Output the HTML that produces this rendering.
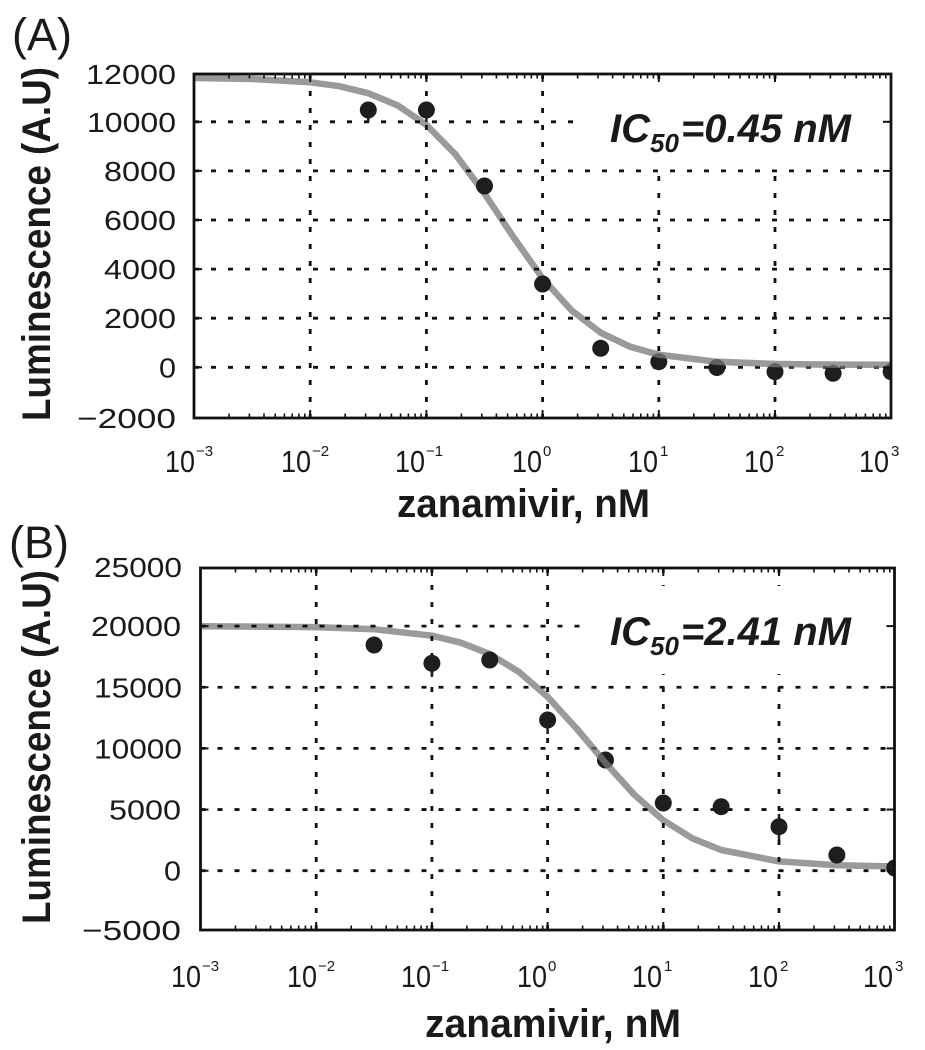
<!DOCTYPE html>
<html>
<head>
<meta charset="utf-8">
<style>
  html,body{margin:0;padding:0;background:#fff;}
  svg{display:block;}
  text{font-family:"Liberation Sans",sans-serif;fill:#1a1a1a;}
  .yt{font-size:28px;text-anchor:end;}
  .xt{font-size:31px;text-anchor:end;}
  .xs{font-size:15px;}
  .lab{font-size:40px;font-weight:bold;}
  .ic{font-size:40px;font-weight:bold;font-style:italic;}
  .pan{font-size:45px;}
  .grid{stroke:#111;stroke-width:2.8;stroke-dasharray:5 12;fill:none;}
  .tk{stroke:#111;stroke-width:1.6;}
  .curve{fill:none;stroke:#9a9a9a;stroke-width:6.5;stroke-linecap:round;stroke-linejoin:round;}
  .pt{fill:#1e1e1e;}
  .eb{stroke:#1e1e1e;stroke-width:2.5;}
</style>
</head>
<body>
<svg width="925" height="1050" viewBox="0 0 925 1050" xmlns="http://www.w3.org/2000/svg">
  <defs>
    <clipPath id="clipA"><rect x="194" y="74" width="697" height="344"/></clipPath>
    <clipPath id="clipB"><rect x="200.5" y="568" width="694" height="362"/></clipPath>
    <g id="mt">
      <line class="tk" x1="35.0" y1="0" x2="35.0" y2="-4.5"/>
      <line class="tk" x1="55.4" y1="0" x2="55.4" y2="-4.5"/>
      <line class="tk" x1="70.0" y1="0" x2="70.0" y2="-4.5"/>
      <line class="tk" x1="81.2" y1="0" x2="81.2" y2="-4.5"/>
      <line class="tk" x1="90.4" y1="0" x2="90.4" y2="-4.5"/>
      <line class="tk" x1="98.2" y1="0" x2="98.2" y2="-4.5"/>
      <line class="tk" x1="104.9" y1="0" x2="104.9" y2="-4.5"/>
      <line class="tk" x1="110.8" y1="0" x2="110.8" y2="-4.5"/>
    </g>
  </defs>

  <!-- ================= PANEL A ================= -->
  <text class="pan" x="12" y="50">(A)</text>

  <g clip-path="url(#clipA)">
    <polyline class="curve" points="194,78.0 252.1,79.0 310.2,82.3 339.25,86.2 368.3,93.2 397.35,105.2 426.4,124.9 455.45,154.4 484.5,193.5 513.55,237.3 542.6,278.3 571.65,310.5 600.7,332.7 629.75,346.6 658.8,354.7 716.9,361.8 775,364.0 833.1,364.6 891.2,364.8"/>
    <line class="grid" x1="194" y1="121.8" x2="891" y2="121.8"/>
    <line class="grid" x1="194" y1="170.9" x2="891" y2="170.9"/>
    <line class="grid" x1="194" y1="220.0" x2="891" y2="220.0"/>
    <line class="grid" x1="194" y1="269.1" x2="891" y2="269.1"/>
    <line class="grid" x1="194" y1="318.2" x2="891" y2="318.2"/>
    <line class="grid" x1="194" y1="367.3" x2="891" y2="367.3"/>
    <line class="grid" x1="310.2" y1="74" x2="310.2" y2="418"/>
    <line class="grid" x1="426.4" y1="74" x2="426.4" y2="418"/>
    <line class="grid" x1="542.6" y1="74" x2="542.6" y2="418"/>
    <line class="grid" x1="658.8" y1="74" x2="658.8" y2="418"/>
    <line class="grid" x1="775.0" y1="74" x2="775.0" y2="418"/>
    <!-- white box behind IC50 label -->
    <rect x="585" y="83" width="306" height="84" fill="#fff"/>
    <g>
      <line class="eb" x1="368.3" y1="110" x2="368.3" y2="122"/>
      <line class="eb" x1="426.4" y1="110" x2="426.4" y2="122"/>
      <circle class="pt" cx="368.3" cy="110" r="8.5"/>
      <circle class="pt" cx="426.4" cy="110" r="8.5"/>
      <circle class="pt" cx="484.5" cy="186" r="8.5"/>
      <circle class="pt" cx="542.6" cy="284" r="8.5"/>
      <circle class="pt" cx="600.7" cy="348.3" r="8.5"/>
      <circle class="pt" cx="658.8" cy="361.7" r="8.5"/>
      <circle class="pt" cx="716.9" cy="367.5" r="8.5"/>
      <circle class="pt" cx="775.0" cy="371.7" r="8.5"/>
      <circle class="pt" cx="833.1" cy="373.3" r="8.5"/>
      <circle class="pt" cx="891.2" cy="371.7" r="8.5"/>
    </g>
    <polyline class="curve" style="opacity:0.55" points="600.7,332.7 629.75,346.6 658.8,354.7 716.9,361.8 775,364.0 833.1,364.6 891.2,364.8"/>
  </g>

  <rect x="194" y="74" width="697" height="344" fill="none" stroke="#111" stroke-width="2.8"/>
  <g class="tk" style="stroke-width:2">
    <line x1="310.2" y1="418" x2="310.2" y2="410"/><line x1="426.4" y1="418" x2="426.4" y2="410"/>
    <line x1="542.6" y1="418" x2="542.6" y2="410"/><line x1="658.8" y1="418" x2="658.8" y2="410"/>
    <line x1="775.0" y1="418" x2="775.0" y2="410"/>
    <line x1="310.2" y1="74" x2="310.2" y2="82"/><line x1="426.4" y1="74" x2="426.4" y2="82"/>
    <line x1="542.6" y1="74" x2="542.6" y2="82"/><line x1="658.8" y1="74" x2="658.8" y2="82"/>
    <line x1="775.0" y1="74" x2="775.0" y2="82"/>
    <line x1="194" y1="121.8" x2="202" y2="121.8"/><line x1="194" y1="170.9" x2="202" y2="170.9"/>
    <line x1="194" y1="220.0" x2="202" y2="220.0"/><line x1="194" y1="269.1" x2="202" y2="269.1"/>
    <line x1="194" y1="318.2" x2="202" y2="318.2"/><line x1="194" y1="367.3" x2="202" y2="367.3"/>
    <line x1="891" y1="121.8" x2="883" y2="121.8"/><line x1="891" y1="170.9" x2="883" y2="170.9"/>
    <line x1="891" y1="220.0" x2="883" y2="220.0"/><line x1="891" y1="269.1" x2="883" y2="269.1"/>
    <line x1="891" y1="318.2" x2="883" y2="318.2"/><line x1="891" y1="367.3" x2="883" y2="367.3"/>
  </g>
  <use href="#mt" transform="translate(194,418)"/>
  <use href="#mt" transform="translate(310.2,418)"/>
  <use href="#mt" transform="translate(426.4,418)"/>
  <use href="#mt" transform="translate(542.6,418)"/>
  <use href="#mt" transform="translate(658.8,418)"/>
  <use href="#mt" transform="translate(775,418)"/>
  <use href="#mt" transform="translate(194,74) scale(1,-1)"/>
  <use href="#mt" transform="translate(310.2,74) scale(1,-1)"/>
  <use href="#mt" transform="translate(426.4,74) scale(1,-1)"/>
  <use href="#mt" transform="translate(542.6,74) scale(1,-1)"/>
  <use href="#mt" transform="translate(658.8,74) scale(1,-1)"/>
  <use href="#mt" transform="translate(775,74) scale(1,-1)"/>

  <text class="yt" x="176" y="84" textLength="90" lengthAdjust="spacingAndGlyphs">12000</text>
  <text class="yt" x="176" y="131.8" textLength="89" lengthAdjust="spacingAndGlyphs">10000</text>
  <text class="yt" x="176" y="180.9" textLength="72" lengthAdjust="spacingAndGlyphs">8000</text>
  <text class="yt" x="176" y="230" textLength="72" lengthAdjust="spacingAndGlyphs">6000</text>
  <text class="yt" x="176" y="279.1" textLength="72" lengthAdjust="spacingAndGlyphs">4000</text>
  <text class="yt" x="176" y="328.2" textLength="72" lengthAdjust="spacingAndGlyphs">2000</text>
  <text class="yt" x="176" y="377.3" textLength="17" lengthAdjust="spacingAndGlyphs">0</text>
  <text class="yt" x="176" y="428" textLength="99" lengthAdjust="spacingAndGlyphs">−2000</text>

  <g>
    <text class="xt" x="195" y="472" textLength="30" lengthAdjust="spacingAndGlyphs">10</text><text class="xs" x="196" y="456">−3</text>
    <text class="xt" x="311" y="472" textLength="30" lengthAdjust="spacingAndGlyphs">10</text><text class="xs" x="312" y="456">−2</text>
    <text class="xt" x="425" y="472" textLength="30" lengthAdjust="spacingAndGlyphs">10</text><text class="xs" x="426" y="456">−1</text>
    <text class="xt" x="542" y="472" textLength="30" lengthAdjust="spacingAndGlyphs">10</text><text class="xs" x="543" y="456">0</text>
    <text class="xt" x="658" y="472" textLength="30" lengthAdjust="spacingAndGlyphs">10</text><text class="xs" x="660" y="456">1</text>
    <text class="xt" x="774" y="472" textLength="30" lengthAdjust="spacingAndGlyphs">10</text><text class="xs" x="776" y="456">2</text>
    <text class="xt" x="889" y="472" textLength="30" lengthAdjust="spacingAndGlyphs">10</text><text class="xs" x="891" y="456">3</text>
  </g>

  <text class="lab" x="397" y="517" textLength="253" lengthAdjust="spacingAndGlyphs">zanamivir, nM</text>
  <text class="lab" transform="translate(50,244) rotate(-90)" text-anchor="middle" textLength="354" lengthAdjust="spacingAndGlyphs">Luminescence (A.U)</text>

  <text class="ic" x="610" y="142">IC<tspan style="font-size:26px" dy="10">50</tspan><tspan dy="-10" dx="2">=0.45 nM</tspan></text>

  <!-- ================= PANEL B ================= -->
  <text class="pan" x="9" y="558">(B)</text>

  <g clip-path="url(#clipB)">
    <polyline class="curve" points="200.5,626.2 316.2,627.1 374.05,629.2 431.9,635.7 460.8,642.7 489.75,654.0 518.7,671.7 547.6,696.8 576.5,728.4 605.45,762.8 634.4,794.8 663.3,820.3 692.2,838.3 721.15,850.0 779,861.4 836.85,865.2 894.7,866.5"/>
    <line class="grid" x1="200.5" y1="626.1" x2="894.5" y2="626.1"/>
    <line class="grid" x1="200.5" y1="687.25" x2="894.5" y2="687.25"/>
    <line class="grid" x1="200.5" y1="748.4" x2="894.5" y2="748.4"/>
    <line class="grid" x1="200.5" y1="809.55" x2="894.5" y2="809.55"/>
    <line class="grid" x1="200.5" y1="870.7" x2="894.5" y2="870.7"/>
    <line class="grid" x1="316.2" y1="568" x2="316.2" y2="930"/>
    <line class="grid" x1="431.9" y1="568" x2="431.9" y2="930"/>
    <line class="grid" x1="547.6" y1="568" x2="547.6" y2="930"/>
    <line class="grid" x1="663.3" y1="568" x2="663.3" y2="930"/>
    <line class="grid" x1="779.0" y1="568" x2="779.0" y2="930"/>
    <rect x="580" y="586" width="314" height="88" fill="#fff"/>
    <g>
      <line class="eb" x1="431.9" y1="663" x2="431.9" y2="677"/>
      <line class="eb" x1="547.6" y1="720" x2="547.6" y2="734"/>
      <line class="eb" x1="779.0" y1="814" x2="779.0" y2="840"/>
      <circle class="pt" cx="374.05" cy="645" r="8.5"/>
      <circle class="pt" cx="431.9" cy="663.3" r="8.5"/>
      <circle class="pt" cx="489.75" cy="660" r="8.5"/>
      <circle class="pt" cx="547.6" cy="720" r="8.5"/>
      <circle class="pt" cx="605.45" cy="760" r="8.5"/>
      <circle class="pt" cx="663.3" cy="803" r="8.5"/>
      <circle class="pt" cx="721.15" cy="806.7" r="8.5"/>
      <circle class="pt" cx="779.0" cy="826.7" r="8.5"/>
      <circle class="pt" cx="836.85" cy="855" r="8.5"/>
      <circle class="pt" cx="894.7" cy="868" r="8.5"/>
    </g>
    <polyline class="curve" style="opacity:0.55" points="576.5,728.4 605.45,762.8 634.4,794.8"/>
  </g>

  <rect x="200.5" y="568" width="694" height="362" fill="none" stroke="#111" stroke-width="2.8"/>
  <g class="tk" style="stroke-width:2">
    <line x1="316.2" y1="930" x2="316.2" y2="922"/><line x1="431.9" y1="930" x2="431.9" y2="922"/>
    <line x1="547.6" y1="930" x2="547.6" y2="922"/><line x1="663.3" y1="930" x2="663.3" y2="922"/>
    <line x1="779.0" y1="930" x2="779.0" y2="922"/>
    <line x1="316.2" y1="568" x2="316.2" y2="576"/><line x1="431.9" y1="568" x2="431.9" y2="576"/>
    <line x1="547.6" y1="568" x2="547.6" y2="576"/><line x1="663.3" y1="568" x2="663.3" y2="576"/>
    <line x1="779.0" y1="568" x2="779.0" y2="576"/>
    <line x1="200.5" y1="626.1" x2="208.5" y2="626.1"/><line x1="200.5" y1="687.25" x2="208.5" y2="687.25"/>
    <line x1="200.5" y1="748.4" x2="208.5" y2="748.4"/><line x1="200.5" y1="809.55" x2="208.5" y2="809.55"/>
    <line x1="200.5" y1="870.7" x2="208.5" y2="870.7"/>
    <line x1="894.5" y1="626.1" x2="886.5" y2="626.1"/><line x1="894.5" y1="687.25" x2="886.5" y2="687.25"/>
    <line x1="894.5" y1="748.4" x2="886.5" y2="748.4"/><line x1="894.5" y1="809.55" x2="886.5" y2="809.55"/>
    <line x1="894.5" y1="870.7" x2="886.5" y2="870.7"/>
  </g>
  <use href="#mt" transform="translate(200.5,930)"/>
  <use href="#mt" transform="translate(316.2,930)"/>
  <use href="#mt" transform="translate(431.9,930)"/>
  <use href="#mt" transform="translate(547.6,930)"/>
  <use href="#mt" transform="translate(663.3,930)"/>
  <use href="#mt" transform="translate(779,930)"/>
  <use href="#mt" transform="translate(200.5,568) scale(1,-1)"/>
  <use href="#mt" transform="translate(316.2,568) scale(1,-1)"/>
  <use href="#mt" transform="translate(431.9,568) scale(1,-1)"/>
  <use href="#mt" transform="translate(547.6,568) scale(1,-1)"/>
  <use href="#mt" transform="translate(663.3,568) scale(1,-1)"/>
  <use href="#mt" transform="translate(779,568) scale(1,-1)"/>

  <text class="yt" x="182" y="577" textLength="88" lengthAdjust="spacingAndGlyphs">25000</text>
  <text class="yt" x="181" y="636.1" textLength="90" lengthAdjust="spacingAndGlyphs">20000</text>
  <text class="yt" x="182" y="697.25" textLength="88" lengthAdjust="spacingAndGlyphs">15000</text>
  <text class="yt" x="182" y="758.4" textLength="88" lengthAdjust="spacingAndGlyphs">10000</text>
  <text class="yt" x="181" y="819.55" textLength="72" lengthAdjust="spacingAndGlyphs">5000</text>
  <text class="yt" x="181" y="880.7" textLength="17" lengthAdjust="spacingAndGlyphs">0</text>
  <text class="yt" x="181" y="940" textLength="99" lengthAdjust="spacingAndGlyphs">−5000</text>

  <g>
    <text class="xt" x="201" y="987" textLength="30" lengthAdjust="spacingAndGlyphs">10</text><text class="xs" x="202" y="971">−3</text>
    <text class="xt" x="317" y="987" textLength="30" lengthAdjust="spacingAndGlyphs">10</text><text class="xs" x="318" y="971">−2</text>
    <text class="xt" x="431" y="987" textLength="30" lengthAdjust="spacingAndGlyphs">10</text><text class="xs" x="432" y="971">−1</text>
    <text class="xt" x="547" y="987" textLength="30" lengthAdjust="spacingAndGlyphs">10</text><text class="xs" x="548" y="971">0</text>
    <text class="xt" x="662" y="987" textLength="30" lengthAdjust="spacingAndGlyphs">10</text><text class="xs" x="664" y="971">1</text>
    <text class="xt" x="778" y="987" textLength="30" lengthAdjust="spacingAndGlyphs">10</text><text class="xs" x="780" y="971">2</text>
    <text class="xt" x="893" y="987" textLength="30" lengthAdjust="spacingAndGlyphs">10</text><text class="xs" x="895" y="971">3</text>
  </g>

  <text class="lab" x="425" y="1037" textLength="256" lengthAdjust="spacingAndGlyphs">zanamivir, nM</text>
  <text class="lab" transform="translate(50,747) rotate(-90)" text-anchor="middle" textLength="354" lengthAdjust="spacingAndGlyphs">Luminescence (A.U)</text>

  <text class="ic" x="610" y="645">IC<tspan style="font-size:26px" dy="10">50</tspan><tspan dy="-10" dx="2">=2.41 nM</tspan></text>
</svg>
</body>
</html>
